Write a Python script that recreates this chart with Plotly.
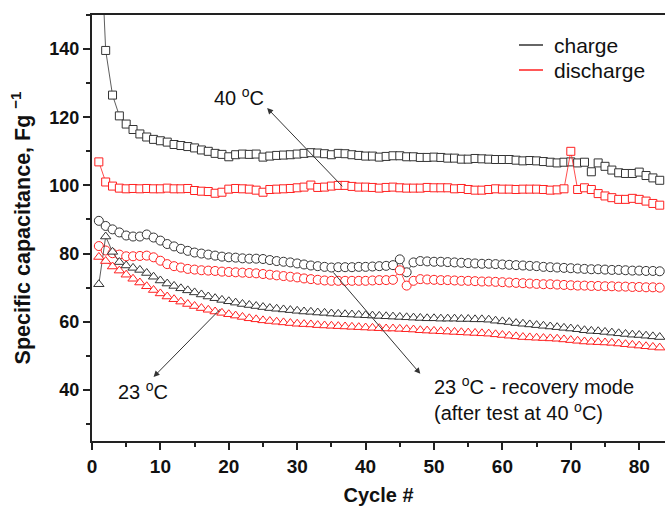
import plotly.graph_objects as go

cycles = list(range(1, 84))

cap_40C_charge = [185, 139.6, 126.5, 120.4, 118.0, 116.4, 115.1, 114.2, 113.5, 113.1,
                  112.7, 112.0, 111.7, 111.4, 111.0, 110.4, 110.0, 109.4, 109.1, 108.4,
                  109.0, 109.2, 109.1, 109.2, 108.3, 108.6, 108.8, 108.9, 109.0, 109.2,
                  109.4, 109.6, 109.5, 109.3, 109.0, 109.4, 109.3, 109.0, 108.8, 108.6,
                  108.6, 108.3, 108.5, 108.7, 108.7, 108.4, 108.4, 108.2, 108.2, 108.3,
                  108.2, 108.0, 108.0, 107.7, 107.7, 107.9, 107.8, 107.7, 107.6, 107.6,
                  107.6, 107.4, 107.2, 107.3, 107.2, 107.0, 106.8, 106.6, 106.8, 106.9,
                  106.6, 106.8, 104.0, 106.6, 105.6, 104.5, 103.7, 103.5, 103.5, 103.9,
                  102.9, 102.2, 101.5]
cap_40C_discharge = [106.9, 101.0, 99.8, 99.2, 99.0, 99.1, 99.0, 99.1, 99.0, 99.0,
                     99.2, 99.0, 99.0, 99.1, 98.5, 98.3, 98.2, 97.7, 98.0, 98.9,
                     99.1, 99.0, 98.9, 98.6, 98.0, 98.8, 98.9, 99.0, 99.1, 99.3,
                     99.5, 100.1, 99.4, 99.5, 99.8, 100.0, 100.0, 99.7, 99.5, 99.5,
                     99.4, 99.2, 99.4, 99.5, 99.3, 99.2, 99.2, 99.2, 99.4, 99.3,
                     99.3, 99.3, 99.0, 99.1, 98.8, 98.6, 98.6, 98.8, 99.0, 98.9,
                     98.9, 98.8, 98.9, 98.9, 98.9, 98.8, 98.6, 98.7, 99.0, 110.0,
                     98.8, 99.3, 98.8, 97.6, 96.9, 96.4, 95.9, 95.9, 96.2, 95.9,
                     95.4, 94.7, 94.2]
cap_rec_charge = [89.6, 88.1, 87.1, 86.2, 85.3, 85.0, 85.0, 85.6, 84.7, 83.8,
                  82.8, 82.1, 81.4, 80.8, 80.3, 80.0, 79.7, 79.4, 79.1, 78.9,
                  78.8, 78.6, 78.5, 78.5, 78.4, 78.1, 77.8, 77.6, 77.4, 77.1,
                  76.8, 76.5, 76.3, 76.1, 75.9, 76.0, 76.0, 76.0, 76.1, 76.1,
                  76.2, 76.3, 76.4, 76.6, 78.3, 74.5, 77.4, 77.8, 77.7, 77.6,
                  77.6, 77.5, 77.4, 77.3, 77.2, 77.1, 77.0, 77.0, 76.9, 76.8,
                  76.7, 76.6, 76.5, 76.4, 76.3, 76.1, 76.0, 75.9, 75.8, 75.7,
                  75.6, 75.5, 75.4, 75.4, 75.3, 75.2, 75.2, 75.1, 75.0, 75.0,
                  74.9, 74.9, 74.8]
cap_rec_discharge = [82.2, 80.9, 80.1, 79.7, 79.2, 79.2, 79.3, 79.4, 78.9, 77.9,
                     76.9, 76.3, 75.9, 75.5, 75.3, 75.1, 75.0, 74.9, 74.7, 74.6,
                     74.5, 74.4, 74.3, 74.2, 74.0, 73.8, 73.6, 73.4, 73.2, 73.0,
                     72.7, 72.5, 72.3, 72.1, 72.0, 72.0, 72.0, 72.0, 72.0, 72.0,
                     72.1, 72.2, 72.2, 72.3, 75.1, 70.6, 72.0, 72.5, 72.4, 72.3,
                     72.2, 72.2, 72.1, 72.0, 72.0, 71.9, 71.8, 71.8, 71.7, 71.6,
                     71.5, 71.4, 71.3, 71.2, 71.1, 71.0, 71.0, 70.9, 70.8, 70.7,
                     70.6, 70.6, 70.5, 70.5, 70.4, 70.4, 70.3, 70.3, 70.2, 70.2,
                     70.1, 70.1, 70.0]
cap_23C_charge = [71.0, 85.0, 80.5, 77.5, 76.5, 75.8, 75.2, 74.3, 73.2, 72.1,
                  71.2, 70.5, 69.8, 69.2, 68.6, 68.0, 67.4, 66.9, 66.4, 66.0,
                  65.6, 65.2, 64.9, 64.6, 64.3, 64.0, 63.8, 63.6, 63.4, 63.2,
                  63.0, 62.9, 62.7, 62.6, 62.4, 62.3, 62.2, 62.1, 62.0, 61.9,
                  61.8, 61.7, 61.6, 61.5, 61.4, 61.3, 61.2, 61.1, 61.0, 61.0,
                  60.9, 60.9, 60.9, 60.8, 60.8, 60.7, 60.7, 60.6, 60.3, 60.1,
                  59.9, 59.6, 59.4, 59.2, 59.0, 58.8, 58.6, 58.4, 58.2, 58.0,
                  57.8, 57.5, 57.3, 57.2, 57.0, 56.8, 56.6, 56.4, 56.2, 56.1,
                  55.9, 55.7, 55.5]
cap_23C_discharge = [79.0, 77.8, 76.2, 75.0, 73.8, 72.6, 71.5, 70.4, 69.3, 68.3,
                     67.4, 66.6, 65.9, 65.2, 64.6, 64.0, 63.5, 63.0, 62.6, 62.2,
                     61.8, 61.4, 61.0, 60.7, 60.4, 60.2, 60.0, 59.8, 59.6, 59.4,
                     59.3, 59.2, 59.0, 58.9, 58.8, 58.7, 58.6, 58.5, 58.4, 58.3,
                     58.2, 58.1, 58.0, 58.0, 57.9, 57.8, 57.7, 57.5, 57.4, 57.3,
                     57.2, 57.1, 57.0, 56.9, 56.8, 56.7, 56.6, 56.5, 56.3, 56.1,
                     55.9, 55.7, 55.5, 55.4, 55.3, 55.2, 55.1, 55.0, 54.8, 54.6,
                     54.4, 54.2, 54.1, 54.0, 53.9, 53.8, 53.6, 53.4, 53.2, 53.0,
                     52.8, 52.6, 52.4]

x_ticks = [0, 10, 20, 30, 40, 50, 60, 70, 80]
y_ticks = [40, 60, 80, 100, 120, 140]

BLACK = "#333333"
RED = "#ff2020"
FONT = "Liberation Sans, Arial, sans-serif"

fig = go.Figure()

def add_series(y, color, symbol, size):
    fig.add_trace(go.Scatter(
        x=cycles, y=y, mode="lines+markers", showlegend=False,
        line=dict(color=color, width=0.8),
        marker=dict(symbol=symbol, size=size, color="white",
                    line=dict(color=color, width=1)),
        cliponaxis=True,
    ))

add_series(cap_40C_charge, BLACK, "square", 8)
add_series(cap_40C_discharge, RED, "square", 8)
add_series(cap_rec_charge, BLACK, "circle", 9)
add_series(cap_rec_discharge, RED, "circle", 9)
add_series(cap_23C_charge, BLACK, "triangle-up", 9)
add_series(cap_23C_discharge, RED, "triangle-up", 9)

ann_font = dict(family=FONT, size=20, color="#111111")
annotations = [
    dict(x=21.5, y=126.0, text="40 <sup>o</sup>C", showarrow=False, font=ann_font,
         xref="x", yref="y"),
    dict(x=7.4, y=39.9, text="23 <sup>o</sup>C", showarrow=False, font=ann_font,
         xref="x", yref="y"),
    dict(x=49.75, y=37.4, text="23 <sup>o</sup>C - recovery mode<br>(after test at 40 <sup>o</sup>C)",
         showarrow=False, font=ann_font, xref="x", yref="y", xanchor="left", align="left"),
]
arrows = [
    ((25.6, 122.7), (36.8, 99.3)),
    ((48.0, 44.7), (35.1, 74.9)),
    ((9.0, 43.8), (19.0, 64.2)),
]
for (hx, hy), (tx, ty) in arrows:
    annotations.append(dict(x=hx, y=hy, ax=tx, ay=ty, xref="x", yref="y",
                            axref="x", ayref="y", text="", showarrow=True,
                            arrowhead=2, arrowsize=1.2, arrowwidth=1,
                            arrowcolor="#333333"))

# legend (manual)
leg_items = [("charge", BLACK, 45), ("discharge", RED, 70)]
shapes = []
for label, color, py in leg_items:
    yp = 1 - (py - 15) / 426.0
    x0 = (519 - 92) / 573.0
    x1 = (543 - 92) / 573.0
    shapes.append(dict(type="line", xref="paper", yref="paper", x0=x0, x1=x1,
                       y0=yp, y1=yp, line=dict(color=color, width=1.5)))
    annotations.append(dict(xref="paper", yref="paper", x=(552 - 92) / 573.0, y=yp,
                            text=label, showarrow=False, xanchor="left", yanchor="middle",
                            font=dict(family=FONT, size=21, color="#111111")))

axis_line = dict(showline=True, linecolor="#222222", linewidth=2, mirror=True,
                 ticks="outside", tickwidth=1.5, tickcolor="#222222", ticklen=7,
                 showgrid=False, zeroline=False)

fig.update_layout(
    width=665, height=508,
    margin=dict(l=92, r=0, t=15, b=67),
    plot_bgcolor="white", paper_bgcolor="white",
    font=dict(family=FONT, color="#111111"),
    xaxis=dict(range=[0, 83.77], tickvals=x_ticks,
               tickfont=dict(family=FONT, size=19, weight="bold"),
               minor=dict(dtick=5, tick0=0, ticks="outside", ticklen=4,
                          tickwidth=1.5, tickcolor="#222222"),
               title=dict(text="Cycle #", font=dict(family=FONT, size=20, weight="bold"),
                          standoff=12),
               automargin=False, **axis_line),
    yaxis=dict(range=[25, 150], tickvals=y_ticks,
               tickfont=dict(family=FONT, size=18, weight="bold"),
               minor=dict(dtick=10, tick0=0, ticks="outside", ticklen=4,
                          tickwidth=1.5, tickcolor="#222222"),
               title=dict(text="Specific capacitance, Fg <sup>\u22121</sup>",
                          font=dict(family=FONT, size=21.5, weight="bold"), standoff=13),
               automargin=False, **axis_line),
    annotations=annotations,
    shapes=shapes,
)

fig.write_html("out.html")
